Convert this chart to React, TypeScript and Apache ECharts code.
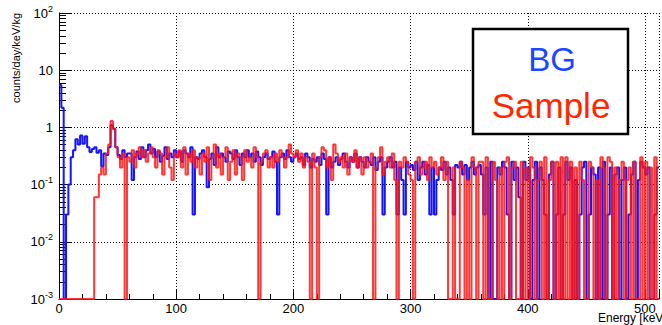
import React, { useEffect, useRef } from "react";
import * as echarts from "echarts";

const BIN_WIDTH_KEV = 2;
const X_MIN = 0;
const X_MAX = 512;
const Y_MIN = 1e-3;
const Y_MAX = 100;

const X_TICK_LABELS = ["0", "100", "200", "300", "400", "500"];
const Y_TICK_EXPONENTS = [-3, -2, -1, 0, 1, 2];
const Y_MINOR_MANTISSAS = [2, 3, 4, 5, 6, 7, 8, 9];

const LEGEND_LABELS = ["BG", "Sample"];
const X_TITLE = "Energy [keV]";
const Y_TITLE = "counts/day/keV/kg";

// counts/day/keV/kg per 2 keV bin, starting at 0 keV (0 = empty bin)
const BG_VALUES = [
  5.5, 2.2, 0, 0.03, 0.1, 0.3, 0.4, 0.62, 0.5, 0.72,
  0.52, 0.7, 0.45, 0.37, 0.42, 0.45, 0.36, 0.4, 0.21, 0.35,
  0.33, 0.45, 1.1, 0.95, 0.45, 0.33, 0.28, 0.4, 0.3, 0.35,
  0.35, 0.12, 0.3, 0.38, 0.28, 0.45, 0.3, 0.4, 0.5, 0.35,
  0.42, 0.3, 0.38, 0.25, 0.32, 0.45, 0.28, 0.35, 0.3, 0.4,
  0.3, 0.38, 0.25, 0.4, 0.35, 0.3, 0.45, 0.03, 0.3, 0.28,
  0.35, 0.4, 0.3, 0.09, 0.28, 0.35, 0.22, 0.45, 0.3, 0.35,
  0.3, 0.25, 0.38, 0.35, 0.28, 0.4, 0.3, 0.22, 0.35, 0.3,
  0.4, 0.3, 0.35, 0.25, 0.38, 0.3, 0.22, 0.3, 0.35, 0.28,
  0.3, 0.38, 0.25, 0.03, 0.3, 0.35, 0.28, 0.4, 0.3, 0.25,
  0.3, 0.35, 0.28, 0.3, 0.22, 0.35, 0.3, 0.2, 0.28, 0.25,
  0.3, 0.22, 0.35, 0.28, 0.03, 0.3, 0.2, 0.25, 0.3, 0.22,
  0.28, 0.35, 0.25, 0.2, 0.3, 0.25, 0.35, 0.2, 0.3, 0.25,
  0.2, 0.3, 0.25, 0.22, 0.3, 0.18, 0.25, 0.3, 0.03, 0.2,
  0.25, 0.3, 0.2, 0.25, 0.03, 0.2, 0.12, 0.03, 0.25, 0.2,
  0.22, 0.18, 0.25, 0.12, 0.2, 0.25, 0.15, 0.22, 0.03, 0.2,
  0.03, 0.12, 0.2, 0.18, 0.25, 0.15, 0.2, 0.12, 0.03, 0.22,
  0.2, 0.25, 0.15, 0.22, 0.12, 0.2, 0.25, 0.15, 0.2, 0.22,
  0.15, 0.03, 0.2, 0, 0.25, 0, 0, 0.2, 0.15, 0.25,
  0.2, 0.03, 0, 0.25, 0.12, 0.2, 0.06, 0, 0.25, 0.12,
  0.2, 0, 0.12, 0.25, 0, 0.2, 0.12, 0.03, 0, 0.15,
  0.25, 0, 0.03, 0.2, 0, 0.03, 0.25, 0.12, 0.2, 0,
  0.12, 0, 0.03, 0.2, 0.25, 0, 0.03, 0.2, 0.15, 0,
  0.2, 0, 0.25, 0, 0.03, 0.2, 0, 0.15, 0.2, 0,
  0.12, 0.2, 0, 0.03, 0.15, 0.25, 0, 0.12, 0.25, 0.2,
  0.15, 0.2, 0, 0, 0.03, 0.2,
];

const SAMPLE_VALUES = [
  0, 0, 0, 0, 0, 0, 0, 0, 0, 0,
  0, 0, 0, 0, 0, 0.06, 0.06, 0.15, 0.2, 0.15,
  0.35, 0.5, 1.3, 0.95, 0.45, 0.3, 0.2, 0.35, 0, 0.3,
  0.25, 0.4, 0.2, 0.35, 0.45, 0.3, 0.4, 0.25, 0.35, 0.45,
  0.3, 0.2, 0.4, 0.35, 0.15, 0.3, 0.45, 0.2, 0.12, 0.35,
  0.3, 0.4, 0.2, 0.45, 0.15, 0.35, 0.25, 0.4, 0.2, 0.3,
  0.15, 0.35, 0.25, 0.45, 0.12, 0.3, 0.5, 0.2, 0.35, 0.15,
  0.3, 0.45, 0.12, 0.25, 0.4, 0.15, 0.35, 0.3, 0.12, 0.4,
  0.25, 0.3, 0.2, 0.45, 0.3, 0, 0.25, 0.35, 0.4, 0.2,
  0.3, 0.2, 0.35, 0.25, 0.4, 0.3, 0.2, 0.3, 0.5, 0.35,
  0.3, 0.4, 0.25, 0.35, 0.2, 0.3, 0.25, 0, 0.35, 0.2,
  0, 0.3, 0.45, 0.4, 0.2, 0.3, 0.12, 0.5, 0.35, 0.25,
  0.3, 0.2, 0.35, 0.15, 0.3, 0.25, 0.4, 0.2, 0.3, 0.15,
  0.3, 0.2, 0.25, 0.35, 0, 0.2, 0.3, 0.45, 0.15, 0.25,
  0.3, 0.2, 0.35, 0.12, 0, 0.25, 0.2, 0.3, 0.25, 0.15,
  0.12, 0, 0.25, 0.3, 0.15, 0.2, 0.25, 0.12, 0.3, 0.2,
  0.25, 0.15, 0.2, 0.3, 0.12, 0.25, 0, 0, 0.2, 0,
  0, 0.25, 0.2, 0, 0.12, 0, 0.3, 0.2, 0, 0.25,
  0.25, 0, 0.3, 0, 0, 0.25, 0.12, 0, 0.2, 0,
  0.25, 0.3, 0, 0.2, 0.25, 0, 0, 0.25, 0, 0.2,
  0, 0.3, 0.2, 0, 0.12, 0.25, 0, 0.3, 0, 0.12,
  0.25, 0, 0.25, 0, 0.3, 0, 0.3, 0, 0.25, 0,
  0.2, 0, 0.25, 0.12, 0, 0, 0.25, 0.2, 0, 0.12,
  0, 0.3, 0.2, 0, 0.3, 0.25, 0, 0.2, 0, 0.12,
  0.25, 0, 0.12, 0.2, 0, 0.25, 0, 0, 0.3, 0,
  0.25, 0, 0.2, 0, 0.3, 0,
];

const FONT = "'Liberation Sans', Arial, Helvetica, sans-serif";

function toSteps(values: number[]): [number, number][] {
  const pts: [number, number][] = values.map((v, i) => [
    X_MIN + i * BIN_WIDTH_KEV,
    v > 0 ? v : Y_MIN,
  ]);
  const last = values[values.length - 1];
  pts.push([X_MIN + values.length * BIN_WIDTH_KEV, last > 0 ? last : Y_MIN]);
  return pts;
}

export default function App() {
  const ref = useRef<HTMLDivElement>(null);

  useEffect(() => {
    document.body.style.margin = "0";
    document.body.style.overflow = "hidden";
    if (!ref.current) return;
    const chart = echarts.init(ref.current, undefined, { renderer: "svg" });

    const minorLog: number[] = [];
    Y_TICK_EXPONENTS.slice(0, -1).forEach((e) => {
      Y_MINOR_MANTISSAS.forEach((m) => minorLog.push(e + Math.log10(m)));
    });

    const option: echarts.EChartsOption = {
      animation: false,
      grid: { left: 59, top: 13, width: 606, height: 286, containLabel: false },
      xAxis: {
        type: "value",
        min: X_MIN,
        max: X_MAX,
        interval: 100,
        axisLine: { show: true, onZero: false, lineStyle: { color: "#000", width: 1 } },
        axisTick: { show: true, inside: true, length: 10, lineStyle: { color: "#000" } },
        minorTick: { show: true, splitNumber: 5, length: 5, lineStyle: { color: "#000" } },
        splitLine: { show: true, lineStyle: { color: "#000", type: [1, 2], width: 1 } },
        axisLabel: {
          color: "#000",
          fontSize: 13,
          fontFamily: FONT,
          margin: 3,
          formatter: (v: number) => {
            const idx = X_TICK_LABELS.indexOf(String(v));
            return idx >= 0 ? X_TICK_LABELS[idx] : "";
          },
        },
      },
      yAxis: [
        {
          type: "log",
          logBase: 10,
          min: Y_MIN,
          max: Y_MAX,
          axisLine: { show: true, onZero: false, lineStyle: { color: "#000", width: 1 } },
          axisTick: { show: true, inside: true, length: 13, lineStyle: { color: "#000" } },
          splitLine: { show: true, lineStyle: { color: "#000", type: [1, 2], width: 1 } },
          axisLabel: {
            color: "#000",
            fontFamily: FONT,
            margin: 6,
            formatter: (v: number) => {
              const e = Math.round(Math.log10(v));
              if (!Y_TICK_EXPONENTS.includes(e)) return "";
              if (e === 0) return "{n|1}";
              if (e === 1) return "{n|10}";
              return "{n|10}{e|" + e + "}";
            },
            rich: {
              n: { fontSize: 13, fontFamily: FONT, color: "#000" },
              e: { fontSize: 9, fontFamily: FONT, color: "#000", padding: [0, 0, 9, 0] },
            },
          },
        },
        {
          type: "value",
          min: Y_TICK_EXPONENTS[0],
          max: Y_TICK_EXPONENTS[Y_TICK_EXPONENTS.length - 1],
          position: "left",
          offset: 0,
          axisLine: { show: false },
          axisLabel: { show: false },
          splitLine: { show: false },
          axisTick: {
            show: true,
            inside: true,
            length: 7,
            customValues: minorLog,
            lineStyle: { color: "#000" },
          } as any,
        },
      ],
      series: [
        {
          name: LEGEND_LABELS[0],
          type: "line",
          step: "end",
          yAxisIndex: 0,
          data: toSteps(BG_VALUES),
          showSymbol: false,
          symbol: "none",
          clip: true,
          lineStyle: { color: "#1414ff", width: 2 },
          z: 3,
        },
        {
          name: LEGEND_LABELS[1],
          type: "line",
          step: "end",
          yAxisIndex: 0,
          data: toSteps(SAMPLE_VALUES),
          showSymbol: false,
          symbol: "none",
          clip: true,
          lineStyle: { color: "rgba(255,20,20,0.85)", width: 2 },
          z: 4,
        },
      ],
      graphic: [
        {
          type: "rect",
          z: 100,
          shape: { x: 473, y: 29, width: 155, height: 105 },
          style: { fill: "#fff", stroke: "#000", lineWidth: 2.5 },
        },
        {
          type: "text",
          z: 101,
          x: 552,
          y: 59,
          style: {
            text: LEGEND_LABELS[0],
            fill: "#1a47ff",
            fontSize: 33,
            fontFamily: FONT,
            align: "center",
            verticalAlign: "middle",
          },
        },
        {
          type: "text",
          z: 101,
          x: 551,
          y: 105,
          style: {
            text: LEGEND_LABELS[1],
            fill: "#ff2600",
            fontSize: 35,
            fontFamily: FONT,
            align: "center",
            verticalAlign: "middle",
          },
        },
        {
          type: "text",
          z: 101,
          x: 16,
          y: 13,
          rotation: Math.PI / 2,
          style: {
            text: Y_TITLE,
            fill: "#000",
            fontSize: 11,
            fontFamily: FONT,
            align: "right",
            verticalAlign: "middle",
          },
        },
        {
          type: "text",
          z: 101,
          x: 598,
          y: 318,
          style: {
            text: X_TITLE,
            fill: "#000",
            fontSize: 12,
            fontFamily: FONT,
            align: "left",
            verticalAlign: "middle",
          },
        },
      ],
    };

    chart.setOption(option);
    return () => chart.dispose();
  }, []);

  return <div ref={ref} style={{ width: 662, height: 325 }} />;
}
